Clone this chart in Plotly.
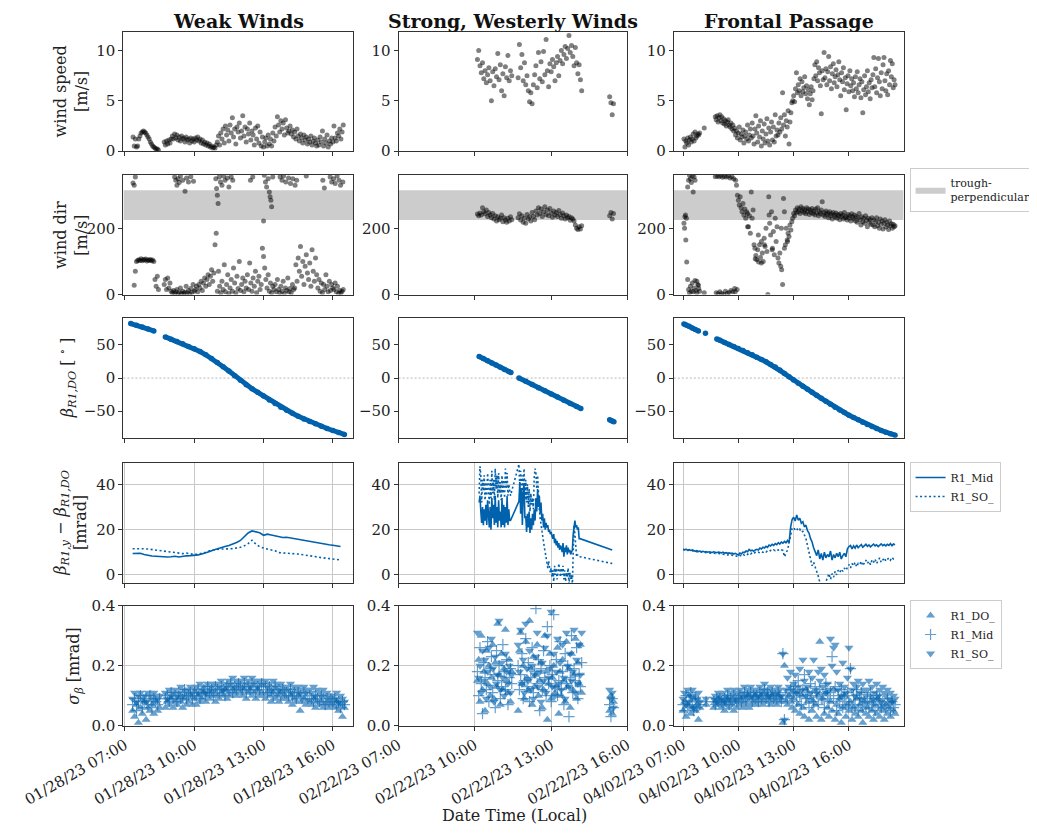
import pandas as pd
import plotly.graph_objects as go

W, H = 1037, 835
OFF = 8                      # page body margin of the html page
FW, FH = W - OFF, H - OFF    # figure size so the page fits the window
FONT = "DejaVu Serif"
BLUE = "#0061ad"
AX = "#333333"
GRID = "#c8c8c8"

DAYS = ["2023-01-28", "2023-02-22", "2023-04-02"]
TITLES = ["Weak Winds", "Strong, Westerly Winds", "Frontal Passage"]
TICK_HOURS = ["07:00", "10:00", "13:00", "16:00"]
COL_RANGE = [("06:56", "16:53"), ("07:00", "16:00"), ("06:30", "18:58")]
TROUGH_PERP = [225, 315]

# ---------------- Weak winds (01/28/23) ----------------
# wind speed, 3-min samples from 07:21
ws1 = [1.4,0.5,1.2,0.4,0.5,
 1.2,1.5,1.8,1.9,2.0,
 1.9,1.8,1.6,1.4,1.2,0.9,0.7,0.5,0.4,
 0.3,0.2,0.2,0.1,
 None,None,None,None,
 0.9,0.6,1.0,0.7,1.1,0.8,1.2,
 1.5,1.2,1.7,1.3,1.6,1.1,1.4,1.0,1.5,1.2,1.3,0.9,1.4,1.1,1.2,0.8,1.3,1.0,1.2,0.9,
 1.3,1.1,1.4,1.0,1.2,0.8,1.1,0.7,0.9,0.6,0.8,0.5,0.7,0.4,0.5,0.3,0.4,0.3,0.6,
 0.9,1.5,0.6,1.8,1.2,2.2,0.8,2.5,1.6,2.1,1.0,2.6,1.8,3.3,1.4,2.2,0.7,2.4,1.9,2.8,1.3,
 2.0,3.5,1.5,2.4,0.9,2.2,1.7,2.8,1.1,2.0,1.6,0.6,2.3,1.2,2.5,0.8,1.9,0.5,1.4,0.4,
 0.9,1.3,0.5,1.6,0.7,1.2,0.5,1.8,1.0,
 2.4,1.5,3.4,2.6,1.9,3.0,2.2,2.8,1.6,3.1,2.3,1.8,2.0,2.5,
 1.7,2.1,1.4,1.9,1.2,2.2,1.5,1.0,1.7,1.3,0.8,1.6,1.1,1.4,0.7,1.2,0.9,1.5,0.6,1.0,1.3,0.8,0.5,
 1.1,0.6,1.4,0.9,2.0,0.5,1.2,0.8,1.6,0.4,1.0,0.7,1.3,0.9,
 2.5,1.3,1.0,1.8,1.5,2.2,1.2,1.9,2.6]
# wind direction (low sector), 3-min samples from 07:21
wd1_lo = [None,28,70,100,103,
 105,103,108,102,106,104,107,101,105,103,106,102,104,100,
 45,25,55,15,
 None,None,None,None,
 30,45,15,50,20,35,10,
 5,12,3,8,15,2,6,20,4,10,3,7,25,5,12,2,18,6,30,10,
 15,25,8,30,20,40,12,35,50,25,45,60,30,55,75,40,65,150,185,
 10,70,25,5,40,15,90,8,30,60,3,20,45,10,80,35,5,55,18,100,12,
 30,50,8,40,20,60,15,95,35,10,50,25,70,5,40,55,15,30,140,115,
 80,45,20,60,10,35,5,25,15,
 30,8,45,15,5,25,10,40,3,20,12,50,8,18,
 5,30,15,20,90,40,110,70,145,55,100,30,85,120,65,45,95,25,135,70,40,110,60,
 20,45,10,35,5,30,15,60,25,8,40,12,30,20,
 15,35,8,25,3,12,5,10,15]
# wind direction (northerly sector)
wd1_hi_t = ["07:21","07:24","07:27","09:09","09:12","09:15","09:18","09:21","09:24","09:30","09:36",
 "09:40","09:45","09:51","09:58","10:56","10:58","11:00","11:02","11:05","11:08","11:12","11:16",
 "11:20","11:26","11:30","11:36","11:40","12:26","12:32","13:00","13:02","13:05","13:08","13:12",
 "13:15","13:17","13:19","13:21","13:24","13:43","13:48","13:52","13:58","14:05","14:10","14:16",
 "14:22","14:26","14:51","15:34","15:38","15:53","15:57","16:02","16:06","16:11","16:16","16:20","16:26"]
wd1_hi_v = [337,330,355,355,345,330,350,338,358,345,312,
 352,340,356,342,350,320,300,275,355,340,330,358,
 345,352,325,355,345,345,355,222,360,340,325,350,
 310,295,285,265,355,355,345,358,340,352,335,350,
 330,345,358,345,322,355,340,350,335,358,345,330,340]
# beta R1,DO [deg]
beta1_t = ["07:15","07:30","07:45","08:00","08:15","08:30","08:45","09:00","09:15","09:30","09:45",
 "10:00","10:15","10:30","10:45","11:00","11:15","11:30","11:45","12:00","12:15","12:30","12:45",
 "13:00","13:15","13:30","13:45","14:00","14:15","14:30","14:45","15:00","15:15","15:30","15:45",
 "16:00","16:15","16:30"]
beta1_v = [82,79.5,77,74,71,None,62,58.5,55,51.5,47.5,
 44,40,35,29.5,23.5,17,10.5,3.5,-3.5,-10,-16,-21.5,
 -27,-33,-38.5,-44,-48.5,-53,-57.5,-61.5,-65.5,-69,-72.5,-76,
 -79,-82,-85]
# beta differences [mrad], 10-min samples from 07:20
dmid1 = [9.4,9.3,9.5,9.0,8.6,8.3,8.2,8.0,8.1,7.9,8.0,8.2,7.9,8.3,8.4,8.5,8.6,8.8,9.2,9.6,
 10.3,11.0,11.6,12.0,12.5,13.0,13.6,14.3,15.2,17.0,18.5,19.4,19.0,18.6,17.5,18.0,17.6,17.2,
 16.8,16.5,16.6,16.3,16.0,15.6,15.2,14.8,14.5,14.2,14.0,13.8,13.6,13.3,13.1,12.8,12.5]
dso1 = [11.5,11.6,11.7,11.5,11.4,11.2,11.0,10.8,10.5,10.2,10.0,9.8,9.6,9.4,9.6,9.2,9.0,9.1,
 9.4,10.0,10.6,11.0,11.2,11.4,11.3,11.5,11.6,11.8,
 12.2,12.8,13.8,15.3,13.6,12.4,11.8,11.4,11.0,10.6,9.8,9.6,9.7,9.4,9.3,9.2,9.0,8.7,8.4,
 8.1,7.9,7.6,7.4,7.2,7.0,6.8,6.6]
# sigma beta [mrad], 5-min samples from 07:20
sdo1 = [.05,.03,.07,.01,.06,.04,.08,.02,.06,.05,.07,.04,.08,.05,.06,
 None,None,
 .06,.08,.07,.09,.06,.08,.07,.09,.08,.06,.09,.07,.08,.10,.07,
 .09,.07,.10,.08,.09,.11,.08,.10,.09,.11,.10,.08,
 .10,.09,.11,.10,.12,.09,.11,.10,.12,.11,.10,.12,
 .11,.10,.12,.09,.11,.12,.10,.11,.09,.12,.10,.11,
 .10,.09,.11,.10,.08,.11,.09,.10,.08,.11,.09,.10,
 .09,.08,.10,.07,.09,.08,.10,.05,.08,.09,.07,.08,
 .08,.07,.09,.06,.08,.07,.08,.06,.07,.08,.06,.07,
 .07,.06,.08,.05,.07,.03,.06]
smid1 = [.07,.09,.05,.08,.10,.06,.08,.09,.07,.10,.06,.09,.08,.07,.09,
 None,None,
 .09,.10,.08,.11,.09,.10,.08,.11,.09,.10,.12,.09,.10,.11,.09,
 .11,.10,.12,.09,.11,.12,.10,.13,.11,.12,.10,.13,
 .12,.11,.13,.12,.10,.13,.12,.14,.11,.13,.12,.14,
 .13,.12,.14,.11,.13,.12,.14,.13,.11,.13,.12,.14,
 .12,.13,.11,.13,.12,.10,.13,.11,.12,.10,.12,.11,
 .11,.10,.12,.10,.11,.09,.11,.10,.09,.11,.10,.09,
 .10,.09,.08,.10,.09,.08,.10,.09,.07,.09,.08,.09,
 .08,.09,.07,.08,.06,.08,.07]
sso1 = [.09,.11,.08,.10,.11,.09,.10,.08,.11,.10,.09,.11,.10,.09,.10,
 None,None,
 .11,.09,.12,.10,.11,.12,.10,.11,.13,.10,.12,.11,.12,.13,.11,
 .12,.13,.11,.14,.12,.13,.11,.14,.12,.13,.14,.12,
 .14,.13,.15,.12,.14,.13,.15,.14,.16,.13,.15,.14,
 .15,.13,.16,.14,.15,.13,.16,.14,.15,.13,.15,.14,
 .14,.15,.13,.14,.12,.15,.13,.14,.12,.14,.13,.12,
 .13,.12,.14,.11,.13,.12,.13,.11,.12,.13,.11,.12,
 .12,.11,.13,.10,.12,.11,.10,.12,.10,.11,.10,.09,
 .10,.09,.11,.08,.10,.09,.08]

# ---------------- Strong westerly winds (02/22/23) ----------------
# 3-min samples from 10:06
ws2 = [9.1,10.0,8.5,7.8,8.8,7.2,8.0,6.8,7.6,8.3,7.0,5.0,7.9,6.5,8.2,7.4,9.7,7.1,8.6,6.0,7.7,5.5,8.4,7.3,9.5,7.0,8.0,7.5] + [None]*4 + \
 [7.3,10.6,8.3,9.6,7.0,8.8,6.6,7.5,6.0,4.9,5.8,4.7,6.6,7.6,8.5,6.3,9.8,7.2,8.9,6.9,9.9,7.6,11.1,8.0,6.4,8.7,7.9,9.1,8.4,7.0,
  8.8,9.4,7.5,9.0,10.0,8.7,9.6,10.4,9.2,10.2,11.5,9.8,10.5,9.4,8.5,10.3,8.8,7.7,8.6,7.1,6.0] + [None]*21 + [5.4,4.8,3.6,4.7]
wd2 = [243,238,246,240,262,250,244,255,236,248,240,232,245,228,238,222,235,226,230,240,220,232,225,218,230,222,235,226] + [None]*4 + \
 [232,244,225,238,218,230,215,242,228,235,222,248,236,226,252,240,262,245,258,236,250,265,242,255,238,260,246,233,252,240,
  248,236,254,242,230,246,238,228,240,232,236,224,232,228,222,210,200,196,205,198,208] + [None]*21 + [238,248,228,245]
beta2_t = ["10:10","10:20","10:30","10:40","10:50","11:00","11:10","11:20","11:25","11:35","11:44","12:00",
 "12:15","12:30","12:45","13:00","13:15","13:30","13:45","14:00","14:10","15:00","15:18","15:23","15:28"]
beta2_v = [32.5,29.3,26,22.8,19.5,16.3,13,9.8,8.2,None,0,-5,
 -9.8,-14.5,-19.2,-24,-28.7,-33.5,-38.2,-43,-46,None,-63,-64.5,-66]
# 2-min samples from 10:10
dmid2 = [32,35,28,23,30,22,29,24,31,22,33,26,21,30,20,34,25,31,22,35,23,30,21,33,24,28,21,34,22,31,21,30,23,35,22,29,24,24] + [None]*9 + \
 [32.5,41,27,38,22,36,40,25,
  26,19,27,21,28,18.5,25,20,27,22,29,24,
  34,28,38,30,35,27,32,
  24,27,21,25,20,23,21,22,19,20,18,19,
  17,16,18,14,16,13,15,12,14,11,13,12,
  10,14,8,12,10,13,9,12,10,11,9,10,11,
  18,22,24,21,22,20,21,16,16] + [None]*37 + [11]
dso2 = [36,48,44,32,42,37,44,33,41,35,45,38,31,42,34,46,36,42,33,47,38,44,34,45,36,41,33,44,36,42,34,47,38,45,35,40,37,35] + [None]*9 + \
 [49,38,46,31,44,35,47,33,
  42,32,40,30,38,28,36,31,34,29,43,47,
  45,38,44,33,29,25,22,
  19,16,14,12,10,7,5,3,6,4,1,3,
  -1,2,-3,4,0,3,-2,1,5,2,-1,3,
  0,4,-2,2,-3,1,-1,3,-4,1,-2,0,-5,
  10,22,18,12,8,9,8,8,8] + [None]*37 + [5]
# 3-min samples from 10:06
sdo2 = [.15,.22,.08,.30,.12,.18,.05,.25,.14,.20,.10,.16,.27,.09,.21,.13,.34,.17,.07,.24,.12,.19,.32,.15,.11,.22,.08,.18] + [None]*4 + \
 [.05,.25,.31,.14,.20,.09,.28,.16,.12,.35,.19,.07,.23,.13,.17,.27,.10,.15,.21,.06,.12,.30,.18,.02,.14,.24,.09,.16,.20,.11,
  .13,.26,.04,.18,.10,.22,.15,.08,.28,.13,.19,.06,.24,.12,.17,.29,.09,.21,.14,.27,.11] + [None]*21 + [.05,.10,.04,.08]
smid2 = [.18,.10,.26,.14,.04,.21,.16,.12,.28,.08,.19,.23,.11,.17,.06,.25,.15,.20,.09,.13,.27,.18,.12,.22,.07,.16,.19,.14] + [None]*4 + \
 [.20,.12,.17,.24,.09,.15,.29,.13,.21,.08,.16,.26,.11,.18,.39,.14,.22,.05,.19,.12,.25,.16,.10,.33,.14,.20,.08,.17,.37,.13,
  .22,.10,.15,.28,.12,.18,.07,.24,.14,.20,.03,.16,.30,.11,.19,.15,.26,.09,.17,.13,.21] + [None]*21 + [.07,.03,.09,.06]
sso2 = [.31,.16,.20,.11,.25,.15,.22,.09,.18,.26,.13,.29,.19,.08,.23,.14,.17,.35,.12,.21,.16,.10,.24,.18,.14,.20,.11,.17] + [None]*4 + \
 [.27,.18,.32,.14,.22,.11,.34,.19,.15,.25,.12,.20,.09,.17,.23,.31,.13,.18,.08,.21,.15,.26,.11,.30,.16,.19,.38,.13,.24,.10,
  .18,.29,.14,.21,.12,.27,.16,.09,.31,.20,.13,.24,.15,.18,.32,.11,.22,.14,.27,.17,.31] + [None]*21 + [.12,.09,.11,.06]

# ---------------- Frontal passage (04/02/23) ----------------
# 3-min samples from 07:03
ws3 = [1.2,0.4,1.0,0.8,1.3,0.6,1.1,1.4,0.9,1.2,1.7,1.0,1.9,1.3,1.5,1.7,1.6,1.8,
 None,None,None,None,2.3,None,None,None,None,None,None,None,None,None,None,None,3.4,
 3.1,3.5,2.9,3.3,3.6,3.0,3.4,2.8,3.2,2.7,3.0,2.5,2.9,3.1,2.6,2.4,2.8,2.2,2.6,2.0,
 2.3,1.6,2.0,1.3,1.8,2.4,1.1,1.7,1.4,2.1,0.8,1.5,1.9,1.2,2.6,1.0,1.6,2.2,1.3,
 2.8,1.5,0.7,2.2,3.5,1.8,0.9,2.5,1.4,3.0,0.5,2.0,1.2,2.7,0.8,1.7,3.2,1.0,2.3,0.6,1.9,2.9,1.1,2.4,0.9,3.6,1.5,2.1,
 1.6,2.8,1.9,3.3,2.2,5.8,2.6,3.6,1.5,3.0,2.4,4.0,0.7,2.9,3.8,4.8,
 5.0,5.5,4.9,6.2,7.8,5.8,6.6,6.0,7.2,5.5,6.9,5.9,6.3,7.4,5.7,6.5,
 5.2,6.1,4.6,5.7,6.4,5.1,6.0,
 7.2,8.6,7.5,8.9,7.0,8.3,7.8,6.5,3.7,8.0,7.1,
 9.8,7.3,8.2,6.6,7.9,9.4,7.0,8.4,6.2,7.7,8.7,6.8,7.4,8.1,6.4,7.6,8.9,7.1,5.5,7.8,6.9,8.3,6.1,7.3,4.1,6.7,7.5,5.9,8.0,6.5,7.2,6.0,
 6.8,5.4,7.4,6.2,7.9,5.8,6.6,7.2,5.3,6.9,3.8,6.1,7.5,5.6,6.4,8.0,5.9,6.8,5.2,7.1,6.3,
 7.6,9.3,6.4,8.2,5.8,7.3,9.2,6.9,5.5,7.8,6.2,8.6,9.3,7.0,6.0,7.7,5.6,8.0,6.6,9.0,7.4,8.7,6.3,7.1,6.6]
wd3 = [215,235,165,98,45,15,5,25,10,35,8,20,42,12,5,30,18,10,
 None,None,None,None,5,None,None,None,None,None,None,None,None,None,None,None,356,
 5,358,2,356,8,359,3,354,0,357,10,355,4,358,6,352,12,356,8,350,
 18,345,330,300,285,270,295,262,250,275,240,258,230,250,245,205,238,185,310,
 230,255,150,140,118,105,135,98,150,112,160,125,100,170,145,200,130,0,295,215,180,250,140,190,120,230,160,205,
 110,95,125,85,75,30,290,250,150,200,165,185,175,210,195,220,
 230,245,238,255,248,262,250,258,245,265,252,260,248,256,244,262,
 250,258,242,255,248,260,245,
 252,240,258,246,262,238,250,244,255,280,240,
 248,236,252,242,246,232,250,238,244,228,248,240,234,246,230,242,238,226,245,235,240,228,248,232,236,225,242,230,238,222,244,234,
 228,240,222,236,218,232,245,225,210,235,220,230,215,238,224,205,230,218,226,212,232,
 210,225,205,220,232,208,218,200,228,212,222,198,215,226,204,218,210,196,222,208,214,200,212,205,208]
wd3x_t = ["07:05","07:08","07:11","07:15","07:18","07:21","07:24","07:27","07:30","07:33","07:36","07:39","07:45",
 "07:50","09:50","09:56","10:30","10:55","11:05","11:15","11:25","11:40","11:50","12:20","12:30","12:40"]
wd3x_v = [200,240,230,325,345,360,350,338,358,310,355,345,40,28,8,15,205,108,180,95,150,240,135,200,140,160]
beta3_t = ["07:03","07:10","07:20","07:30","07:40","07:50","08:00","08:13","08:30","08:50","09:00","09:15","09:30",
 "09:45","10:00","10:15","10:30","10:45","11:00","11:15","11:30","11:45","12:00","12:15","12:30","12:45","13:00",
 "13:15","13:30","13:45","14:00","14:15","14:30","14:45","15:00","15:15","15:30","15:45","16:00","16:15","16:30",
 "16:45","17:00","17:15","17:30","17:45","18:00","18:15","18:30"]
beta3_v = [81.5,80,78,75.5,73,71,None,67.5,None,59,57,53.5,50.5,
 47.5,44.5,41.5,38,35,31.5,28,24.5,20.5,16.5,12,7,2,-3,
 -8,-12.5,-17,-21.5,-26,-30.5,-35,-39.5,-44,-48,-52,-56,-59.5,-63,
 -66.5,-70,-73,-76,-79,-81.5,-84,-86]
# 5-min samples from 07:00
dmid3 = [11.2,11.0,11.3,10.9,11.1,10.8,11.0,10.6,10.4,10.7,10.3,10.5,
 10.2,10.4,10.1,10.3,10.0,10.2,10.1,9.9,10.2,10.0,9.8,10.1,
 9.9,9.7,10.0,9.6,9.8,9.5,9.7,9.4,9.6,9.2,9.5,9.3,
 8.8,9.6,9.2,10.0,9.8,10.5,10.2,11.2,10.6,10.9,10.4,11.0,
 11.3,11.0,11.8,11.4,12.2,11.9,12.6,12.1,13.2,12.8,13.5,13.0,
 13.8,13.3,14.2,13.6,14.5,14.0,14.8,14.2,15.2,14.0,21.0,24.5,
 25.5,23.8,26.5,24.2,25.0,22.8,23.5,21.2,22.0,19.5,18.5,16.0,
 14.5,12.0,10.5,8.5,11.0,7.0,9.5,6.5,10.0,7.5,9.0,8.0,
 10.5,6.5,9.0,7.5,9.5,8.0,10.0,7.0,8.5,9.5,8.0,11.5,
 12.5,13.0,11.5,12.8,11.8,13.2,12.0,12.6,13.4,12.2,12.9,13.5,
 12.6,13.2,12.4,13.0,13.6,12.8,13.3,12.5,13.1,13.7,12.9,13.4,
 12.8,13.5,13.0,13.8,12.9,13.6,13.3]
dso3 = [11.3,11.1,11.2,10.8,10.9,10.6,10.7,10.4,10.2,10.3,10.0,10.1,
 9.9,10.0,9.8,9.9,9.7,9.8,9.6,9.7,9.5,9.6,9.4,9.5,
 9.3,9.4,9.2,9.0,9.1,8.8,8.9,8.6,8.7,8.4,8.5,8.3,
 8.0,8.6,8.3,9.0,8.7,9.3,9.0,9.6,9.2,9.8,9.4,9.9,
 9.6,10.0,9.7,10.2,9.9,10.4,10.1,10.6,10.3,10.8,10.5,11.0,
 10.7,11.2,10.9,11.4,11.0,10.8,8.0,9.5,11.0,14.0,18.0,20.5,
 21.0,19.8,20.5,19.5,20.2,18.8,19.2,17.5,16.0,13.0,9.5,6.0,
 4.0,5.5,3.0,1.5,-0.5,-2.5,-6,-4,-5,-3,-1.5,0.5,
 -2.0,0.5,-1.0,1.5,0.0,2.0,1.0,2.5,1.5,3.0,2.0,3.5,
 4.5,3.0,5.0,4.0,5.5,3.5,5.0,4.5,6.0,4.0,5.5,6.5,
 5.0,6.0,4.5,6.5,5.5,7.0,5.0,6.5,7.5,5.5,6.5,7.5,
 6.0,7.0,7.5,6.5,7.8,7.0,7.2]
sdo3 = [.05,.08,.03,.07,.10,.04,.06,.09,.05,.07,.02,.06,
 None,None,None,.07,None,None,None,None,.06,.08,.07,.09,
 .07,.06,.08,.05,.07,.09,.06,.08,.07,.05,.08,.06,
 .08,.07,.09,.06,.08,.07,.10,.06,.09,.07,.08,.10,
 .07,.09,.08,.10,.07,.09,.08,.10,.09,.07,.10,.08,
 .09,.07,.10,.08,.09,.01,.20,.08,.07,.10,.08,.06,
 .09,.05,.11,.07,.04,.10,.06,.03,.12,.08,.02,.09,
 .05,.08,.07,.03,.10,.28,.02,.09,.04,.11,.06,.03,
 .08,.05,.12,.02,.07,.04,.09,.01,.06,.10,.03,.07,
 .05,.08,.02,.06,.04,.09,.03,.07,.05,.01,.08,.04,
 .06,.03,.08,.05,.02,.07,.04,.09,.03,.06,.05,.02,
 .07,.04,.06,.03,.08,.05,.04]
smid3 = [.07,.05,.10,.06,.08,.11,.07,.05,.09,.06,.08,.07,
 None,None,None,.08,None,None,None,None,.08,.07,.09,.08,
 .09,.08,.07,.09,.08,.10,.07,.09,.08,.10,.09,.08,
 .09,.10,.08,.09,.11,.08,.10,.09,.11,.08,.10,.09,
 .10,.08,.11,.09,.10,.12,.09,.11,.08,.10,.11,.09,
 .10,.09,.11,.10,.08,.24,.02,.10,.09,.11,.12,.10,
 .11,.13,.08,.15,.10,.07,.12,.17,.09,.11,.06,.14,
 .10,.08,.13,.11,.07,.12,.09,.09,.06,.14,.10,.08,
 .11,.23,.09,.13,.05,.10,.08,.12,.06,.09,.07,.11,
 .08,.19,.06,.10,.07,.12,.05,.09,.11,.06,.08,.07,
 .09,.06,.11,.07,.08,.05,.10,.07,.09,.06,.08,.07,
 .06,.09,.07,.05,.08,.06,.07]
sso3 = [.09,.11,.07,.12,.08,.10,.12,.06,.10,.09,.11,.08,
 None,None,None,.09,None,None,None,None,.09,.10,.08,.11,
 .10,.09,.11,.08,.10,.12,.09,.11,.10,.12,.09,.11,
 .11,.12,.10,.11,.13,.10,.12,.11,.13,.10,.12,.11,
 .12,.10,.13,.11,.12,.14,.11,.12,.10,.13,.12,.11,
 .12,.11,.13,.12,.10,.24,.02,.12,.16,.13,.18,.12,
 .14,.17,.11,.13,.19,.12,.22,.15,.10,.13,.18,.11,
 .16,.22,.12,.11,.18,.15,.19,.13,.17,.11,.14,.12,
 .29,.20,.26,.27,.18,.12,.14,.10,.21,.13,.11,.16,
 .26,.19,.12,.14,.10,.13,.15,.11,.09,.14,.12,.10,
 .12,.15,.10,.13,.09,.11,.14,.10,.12,.08,.13,.11,
 .10,.12,.09,.11,.08,.10,.09]

# ---------------- helpers ----------------
def grid(day, start, step, n):
    t0 = pd.Timestamp(f"{day} {start}")
    return [t0 + pd.Timedelta(minutes=step * i) for i in range(n)]

def at(day, hms):
    return [pd.Timestamp(f"{day} {h}") for h in hms]

def axn(r, c):
    i = r * 3 + c + 1
    return ("x" if i == 1 else f"x{i}"), ("y" if i == 1 else f"y{i}")

def fx(px):
    return (px - OFF) / FW

def fy(py):
    return 1 - (py - OFF) / FH

COLS_PX = [(125, 358), (404, 636), (683, 916)]
ROWS_PX = [(31.5, 151), (175, 294.5), (318.3, 437.8), (462.7, 582.5), (605.7, 725.7)]
Y_RANGE = [[0, 11.9], [0, 361], [-90, 90], [-3.4, 49.6], [0, 0.4]]
Y_TICKS = [[0, 5, 10], [0, 200], [-50, 0, 50], [0, 20, 40], [0, 0.2, 0.4]]

fig = go.Figure()
BLACK = "rgba(0,0,0,0.5)"

def pts(r, c, x, y, **kw):
    xa, ya = axn(r, c)
    fig.add_trace(go.Scatter(x=x, y=y, xaxis=xa, yaxis=ya, **kw))

def black(r, c, x, y):
    pts(r, c, x, y, mode="markers", showlegend=False,
        marker=dict(size=5, color=BLACK, line=dict(width=0)))

# trough-perpendicular band
for c in range(3):
    x0 = pd.Timestamp(f"{DAYS[c]} {COL_RANGE[c][0]}")
    x1 = pd.Timestamp(f"{DAYS[c]} {COL_RANGE[c][1]}")
    pts(1, c, [x0, x1, x1, x0, x0],
        [TROUGH_PERP[0], TROUGH_PERP[0], TROUGH_PERP[1], TROUGH_PERP[1], TROUGH_PERP[0]],
        mode="lines", fill="toself", fillcolor="#cccccc", line=dict(width=0, color="#cccccc"),
        name="trough-<br>perpendicular", showlegend=(c == 0), legend="legend")

# row 1 & 2
black(0, 0, grid(DAYS[0], "07:21", 3, len(ws1)), ws1)
black(1, 0, grid(DAYS[0], "07:21", 3, len(wd1_lo)), wd1_lo)
black(1, 0, at(DAYS[0], wd1_hi_t), wd1_hi_v)
black(0, 1, grid(DAYS[1], "10:06", 3, len(ws2)), ws2)
black(1, 1, grid(DAYS[1], "10:06", 3, len(wd2)), wd2)
black(0, 2, grid(DAYS[2], "07:03", 3, len(ws3)), ws3)
black(1, 2, grid(DAYS[2], "07:03", 3, len(wd3)), wd3)
black(1, 2, at(DAYS[2], wd3x_t), wd3x_v)

# row 3
for c, (bt, bv) in enumerate([(beta1_t, beta1_v), (beta2_t, beta2_v), (beta3_t, beta3_v)]):
    pts(2, c, at(DAYS[c], bt), bv, mode="lines+markers", connectgaps=False, showlegend=False,
        line=dict(color=BLUE, width=5), marker=dict(color=BLUE, size=5.5))

# row 4
row4 = [(grid(DAYS[0], "07:20", 10, len(dmid1)), dmid1, dso1),
        (grid(DAYS[1], "10:10", 2, len(dmid2)), dmid2, dso2),
        (grid(DAYS[2], "07:00", 5, len(dmid3)), dmid3, dso3)]
for c, (t, m, s) in enumerate(row4):
    pts(3, c, t, m, mode="lines", connectgaps=True, name="R1_Mid", legend="legend2",
        showlegend=(c == 0), line=dict(color=BLUE, width=1.6))
    pts(3, c, t, s, mode="lines", connectgaps=True, name="R1_SO_", legend="legend2",
        showlegend=(c == 0), line=dict(color=BLUE, width=1.6, dash="2px,2.5px"))

# row 5
row5 = [(grid(DAYS[0], "07:20", 5, len(sdo1)), sdo1, smid1, sso1),
        (grid(DAYS[1], "10:06", 3, len(sdo2)), sdo2, smid2, sso2),
        (grid(DAYS[2], "07:00", 5, len(sdo3)), sdo3, smid3, sso3)]
for c, (t, d, m, s) in enumerate(row5):
    pts(4, c, t, d, mode="markers", name="R1_DO_", legend="legend3", showlegend=(c == 0), opacity=0.6,
        marker=dict(symbol="triangle-up", size=8, color=BLUE, line=dict(width=0)))
    pts(4, c, t, m, mode="markers", name="R1_Mid", legend="legend3", showlegend=(c == 0), opacity=0.6,
        marker=dict(symbol="cross-thin", size=8, color=BLUE, line=dict(width=1.2, color=BLUE)))
    pts(4, c, t, s, mode="markers", name="R1_SO_", legend="legend3", showlegend=(c == 0), opacity=0.6,
        marker=dict(symbol="triangle-down", size=8, color=BLUE, line=dict(width=0)))

layout = dict(width=FW, height=FH, margin=dict(l=0, r=0, t=0, b=0),
              paper_bgcolor="white", plot_bgcolor="white",
              font=dict(family=FONT, size=15, color="#222"), shapes=[], annotations=[])

for r in range(5):
    for c in range(3):
        xa, ya = axn(r, c)
        i = r * 3 + c + 1
        xl, xr = COLS_PX[c]
        yt, yb = ROWS_PX[r]
        common = dict(showline=True, linecolor=AX, linewidth=1, mirror=True, ticks="outside",
                      ticklen=4, tickcolor=AX, zeroline=False, automargin=False,
                      showgrid=(r >= 3), gridcolor=GRID, gridwidth=1,
                      tickfont=dict(family=FONT, size=15, color="#222"))
        layout["xaxis" if i == 1 else f"xaxis{i}"] = dict(
            domain=[fx(xl), fx(xr)], anchor=ya, type="date",
            range=[f"{DAYS[c]} {COL_RANGE[c][0]}", f"{DAYS[c]} {COL_RANGE[c][1]}"],
            tickvals=[f"{DAYS[c]} {h}" for h in TICK_HOURS], tickformat="%m/%d/%y %H:%M",
            showticklabels=(r == 4), tickangle=-30, **common)
        ydict = dict(domain=[fy(yb), fy(yt)], anchor=xa, range=Y_RANGE[r],
                     tickvals=Y_TICKS[r], **common)
        if r == 4:
            ydict["tickformat"] = ".1f"
        layout["yaxis" if i == 1 else f"yaxis{i}"] = ydict
        if r == 2:
            layout["shapes"].append(dict(type="line", xref=f"{xa} domain", x0=0, x1=1, yref=ya, y0=0, y1=0,
                                         line=dict(color="#999999", width=0.7, dash="2px,2px"), layer="below"))

# column titles
for c in range(3):
    xl, xr = COLS_PX[c]
    layout["annotations"].append(dict(text=f"<b>{TITLES[c]}</b>", x=fx((xl + xr) / 2), y=fy(20.5),
                                      xref="paper", yref="paper", showarrow=False, xanchor="center",
                                      yanchor="middle", font=dict(family=FONT, size=19, color="#111")))

YLABELS = ["wind speed<br>[m/s]", "wind dir<br>[m/s]",
           "<i>β</i><sub><i>R1,DO</i></sub> [ <sup>∘</sup> ]",
           "<i>β</i><sub><i>R1,y</i></sub> − <i>β</i><sub><i>R1,DO</i></sub><br>[mrad]",
           "<i>σ</i><sub><i>β</i></sub> [mrad]"]
YLAB_X = [72, 72, 68, 71, 76]
for r in range(5):
    yt, yb = ROWS_PX[r]
    layout["annotations"].append(dict(text=YLABELS[r], x=fx(YLAB_X[r]), y=fy((yt + yb) / 2),
                                      xref="paper", yref="paper", showarrow=False, textangle=-90,
                                      xanchor="center", yanchor="middle",
                                      font=dict(family=FONT, size=16, color="#222")))
layout["annotations"].append(dict(text="Date Time (Local)", x=fx(521), y=fy(815), xref="paper",
                                  yref="paper", showarrow=False, xanchor="center", yanchor="middle",
                                  font=dict(family=FONT, size=16, color="#222")))

leg = dict(xanchor="left", yanchor="top", bgcolor="white", bordercolor="#cccccc", borderwidth=1,
           font=dict(family=FONT, size=11, color="#222"), itemwidth=30, tracegroupgap=0)
layout["legend"] = dict(x=fx(922), y=fy(168), **leg)
layout["legend2"] = dict(x=fx(922), y=fy(462), **leg)
layout["legend3"] = dict(x=fx(922), y=fy(600), **leg)

fig.update_layout(**layout)
fig.write_html("out.html")
